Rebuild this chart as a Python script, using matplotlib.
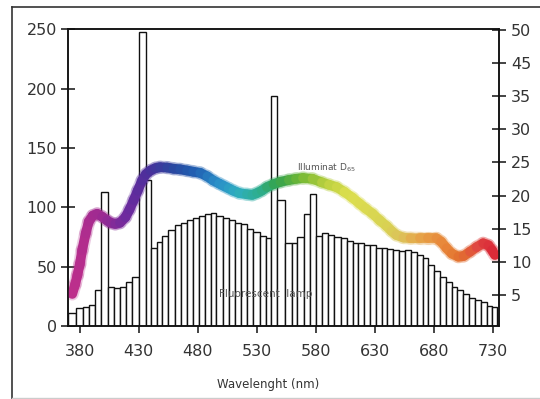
import numpy as np
import matplotlib
matplotlib.use('Agg')
import matplotlib.pyplot as plt
from matplotlib.collections import LineCollection
from matplotlib.colors import LinearSegmentedColormap
from matplotlib.lines import Line2D

# fluorescent lamp histogram: bin edges (nm) and heights (left axis)
lamp_edges = [370, 376.6, 382.3, 387.4, 392.7, 398.3, 404.0, 409.1, 414.1, 419.5,
              424.5, 430.2, 435.8, 440.0, 445.1, 449.9, 455.0, 460.6, 465.4, 470.5,
              475.5, 480.9, 486.0, 490.8, 495.6, 500.9, 506.3, 511.3, 516.7, 521.8,
              526.8, 532.2, 537.3, 542.3, 547.1, 553.9, 559.5, 564.3, 569.4, 574.5,
              580.1, 584.9, 590.5, 595.6, 601.0, 606.0, 611.1, 615.9, 621.0, 625.7,
              630.8, 635.6, 640.4, 645.5, 650.2, 655.3, 660.4, 665.2, 670.3, 675.0,
              679.8, 684.9, 689.7, 694.8, 699.6, 704.6, 709.5, 714.5, 719.4, 724.4,
              729.1, 733.4]
lamp_power = [11, 15, 16, 18, 30, 113, 33, 32, 33, 37,
              41, 248, 123, 66, 71, 76, 81, 85, 87, 89,
              91, 93, 94, 95, 93, 91, 89, 87, 86, 82,
              79, 76, 74, 194, 106, 70, 70, 75, 94, 111,
              76, 78, 77, 75, 74, 72, 70, 70, 68, 68,
              66, 66, 65, 64, 63, 64, 62, 60, 57, 51,
              46, 41, 37, 33, 30, 27, 24, 22, 20, 17,
              16]

# illuminant D65 curve (nm, left axis units)
d65_nm = [373.6, 376, 378, 380, 382, 385, 387.6, 391, 394.7, 399, 403, 406, 410,
          414, 418.6, 422, 425.6, 429, 432.7, 436, 439.8, 444, 448, 454, 459.5,
          465, 470.8, 476, 482, 488, 493, 498, 502, 506, 510, 515, 521.5, 526,
          530, 534, 538.4, 544, 550, 557, 563, 569, 577, 585, 591, 597.5, 604,
          611, 617, 622, 628, 634, 640, 644, 648, 654, 660, 668, 675, 682, 686,
          690.6, 695, 700.5, 705, 710.4, 716, 721.5, 726, 729, 731.4]
d65_val = [27, 35, 43, 52, 64, 78, 88, 93, 94.5, 92, 89, 87, 86,
           87, 91.6, 98, 106, 114, 122.6, 128, 131, 133, 133.8, 133.5, 132.5,
           132, 131, 130, 129, 126, 122.6, 120, 118, 116, 114, 112, 111, 110.5,
           112, 114, 117, 119.5, 121.5, 123, 124, 124.7, 124, 121, 119, 117, 113,
           108, 103, 99, 94.6, 89, 84, 80, 76.7, 74.5, 74, 73.9, 73.9, 73.9, 71,
           65.5, 61, 58.4, 59, 62.6, 66.5, 69.7, 68, 64, 59.8]

# spectrum colours along the curve
spec_nm = [370, 400, 420, 440, 460, 480, 500, 515, 535, 550, 570, 590, 610,
           640, 655, 670, 690, 705, 720, 735]
spec_col = ['#c3308a', '#9b2a92', '#6f2b9e', '#4a2f9b', '#2b479f', '#215fb2',
            '#2a8fc8', '#2eaebf', '#2eae8c', '#34a34e', '#72b834', '#b9cf3e',
            '#dcdf4e', '#d8d352', '#dcc35a', '#e6a548', '#e8883a', '#e2702f',
            '#e04542', '#d82034']

x_ticks = [380, 430, 480, 530, 580, 630, 680, 730]
left_ticks = [0, 50, 100, 150, 200, 250]
right_ticks = [5, 10, 15, 20, 25, 30, 35, 40, 45]
right_labels = ['5', '10', '15', '20', '25', '30', '35', '45', '50']

plt.rcParams['font.family'] = ['DejaVu Sans']

fig = plt.figure(figsize=(5.4, 3.99), dpi=100)
ax = fig.add_axes([68 / 540, 73 / 399, 430.5 / 540, 296.7 / 399])

# histogram of the lamp
ax.bar(lamp_edges[:-1], lamp_power, width=np.diff(lamp_edges), align='edge',
       color='white', edgecolor='#111111', linewidth=1.0, zorder=2)

# rainbow coloured D65 curve
lo, hi = spec_nm[0], spec_nm[-1]
cmap = LinearSegmentedColormap.from_list(
    'spec', [((w - lo) / (hi - lo), c) for w, c in zip(spec_nm, spec_col)])
pts = np.column_stack([d65_nm, d65_val])
segs = np.stack([pts[:-1], pts[1:]], axis=1)
mids = (np.array(d65_nm[:-1]) + np.array(d65_nm[1:])) / 2
cols = cmap((mids - lo) / (hi - lo))
glow = LineCollection(segs, colors=cols, linewidths=9.5, alpha=0.25,
                      capstyle='round', joinstyle='round', zorder=3)
line = LineCollection(segs, colors=cols, linewidths=7,
                      capstyle='round', joinstyle='round', zorder=4)
ax.add_collection(glow)
ax.add_collection(line)

ax.set_xlim(370, 734.5)
ax.set_ylim(0, 250)
ax.set_xticks(x_ticks)
ax.set_yticks(left_ticks)
ax.tick_params(axis='both', direction='inout', length=10, width=1.1,
               labelsize=11.5, colors='#111111', labelcolor='#333333')
ax.tick_params(axis='x', pad=8)
ax.tick_params(axis='y', pad=3)
for sp in ax.spines.values():
    sp.set_linewidth(1.1)
    sp.set_color('#111111')

ax2 = ax.twinx()
ax2.set_ylim(0.3, 45.1)
ax2.set_yticks(right_ticks)
ax2.set_yticklabels(right_labels)
ax2.tick_params(axis='y', direction='inout', length=10, width=1.1,
                labelsize=11.5, colors='#111111', labelcolor='#333333', pad=4)
for sp in ax2.spines.values():
    sp.set_linewidth(1.1)
    sp.set_color('#111111')

ax.set_xlabel('Wavelenght (nm)', fontsize=8.5, color='#333333')
ax.xaxis.set_label_coords(0.465, -0.175)

ax.text(0.532, 0.535, 'Illuminat D$_{65}$', transform=ax.transAxes,
        fontsize=6.5, color='#555555', ha='left', va='center', zorder=5)
ax.text(0.35, 0.108, 'Fluorescent  lamp', transform=ax.transAxes,
        fontsize=7.5, color='#555555', ha='left', va='center', zorder=5)

# outer frame of the picture
fig.add_artist(Line2D([12 / 540, 12 / 540], [0, 1 - 7 / 399], transform=fig.transFigure,
                      color='#333333', lw=1.2))
fig.add_artist(Line2D([12 / 540, 1], [1 - 7 / 399, 1 - 7 / 399], transform=fig.transFigure,
                      color='#333333', lw=1.2))
fig.add_artist(Line2D([12 / 540, 1], [1.5 / 399, 1.5 / 399], transform=fig.transFigure,
                      color='#cccccc', lw=1.0))

fig.savefig('out.png', dpi=100, facecolor='white')
